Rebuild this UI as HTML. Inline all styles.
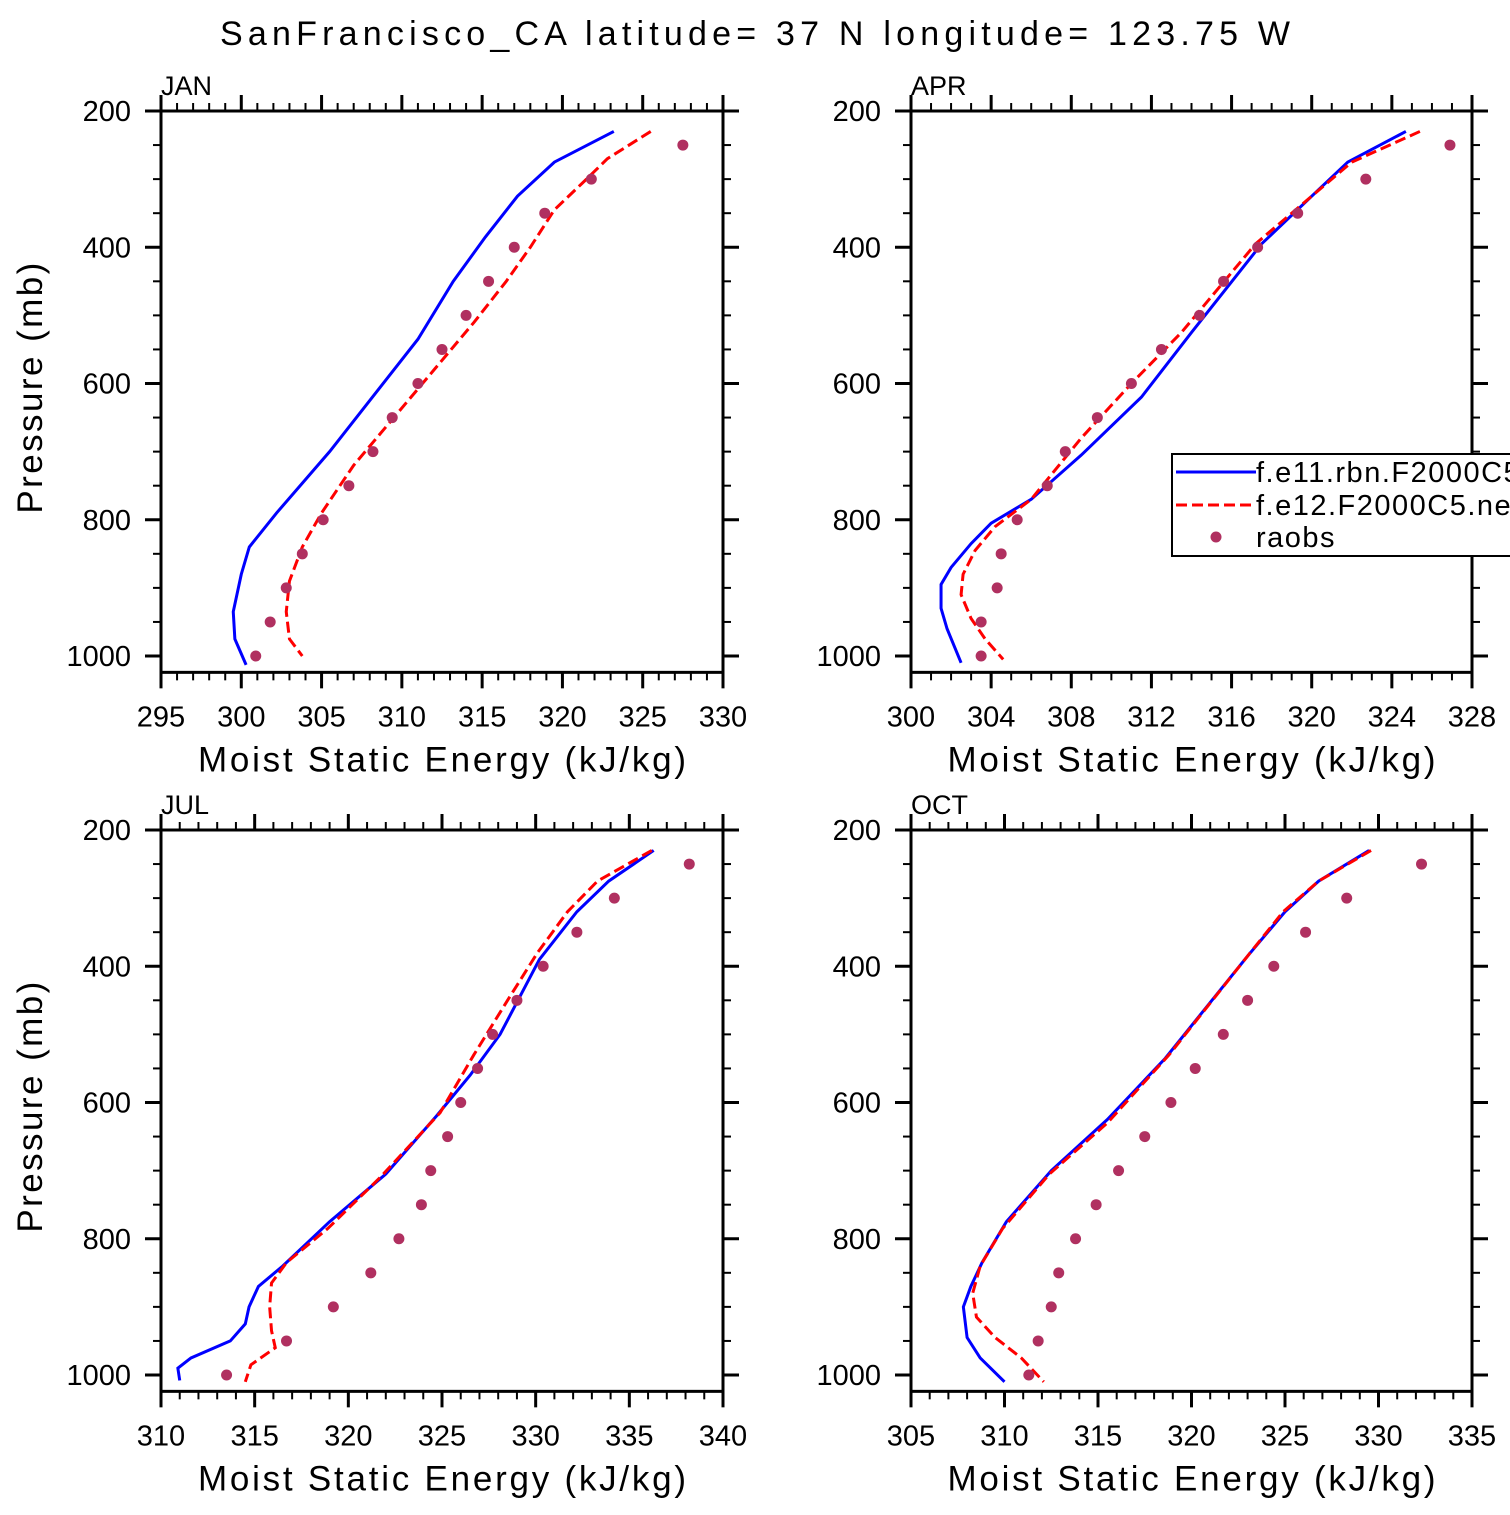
<!DOCTYPE html>
<html><head><meta charset="utf-8"><style>
body{margin:0;background:#fff}
svg text{font-family:"Liberation Sans",sans-serif;fill:#000}
</style></head><body>
<svg id="chart" xmlns="http://www.w3.org/2000/svg" width="1510" height="1510" viewBox="0 0 1510 1510">
<rect width="1510" height="1510" fill="#fff"/>
<text x="220" y="45" font-size="34" textLength="1070" lengthAdjust="spacing">SanFrancisco_CA  latitude= 37 N longitude= 123.75 W</text>
</svg>
<script>
// ---- data ----
const panelNames = ["JAN","APR","JUL","OCT"];
const xMins = [295,300,310,305];
const xMaxs = [330,328,340,335];
const xSteps = [5,4,5,5];
const pTicks = [200,400,600,800,1000];
const obsP = [250,300,350,400,450,500,550,600,650,700,750,800,850,900,950,1000];
const janObs = [327.5,321.8,318.9,317.0,315.4,314.0,312.5,311.0,309.4,308.2,306.7,305.1,303.8,302.8,301.8,300.9];
const aprObs = [326.9,322.7,319.3,317.3,315.6,314.4,312.5,311.0,309.3,307.7,306.8,305.3,304.5,304.3,303.5,303.5];
const julObs = [338.2,334.2,332.2,330.4,329.0,327.7,326.9,326.0,325.3,324.4,323.9,322.7,321.2,319.2,316.7,313.5];
const octObs = [332.3,328.3,326.1,324.4,323.0,321.7,320.2,318.9,317.5,316.1,314.9,313.8,312.9,312.5,311.8,311.3];
const janBlueP = [230,275,325,385,450,535,610,700,790,840,880,935,975,1013];
const janBlue = [323.2,319.5,317.2,315.2,313.2,311.0,308.5,305.5,302.2,300.5,300.0,299.5,299.6,300.3];
const janRedP = [230,270,300,345,400,450,510,580,650,720,790,840,890,935,975,1000];
const janRed = [325.5,322.8,321.5,319.5,318.0,316.5,314.5,312.0,309.5,307.0,305.0,303.8,303.0,302.8,303.0,303.8];
const aprBlueP = [230,275,325,395,525,620,705,770,805,835,870,895,930,960,1010];
const aprBlue = [324.7,321.8,320.0,317.5,314.0,311.5,308.5,306.0,304.0,303.0,302.0,301.5,301.5,301.8,302.5];
const aprRedP = [230,275,325,395,525,600,680,770,810,845,880,910,945,975,1005];
const aprRed = [325.4,322.0,320.0,317.2,313.5,311.0,308.5,306.0,304.2,303.2,302.6,302.5,303.0,303.7,304.6];
const julBlueP = [230,275,320,390,500,560,620,705,775,840,870,900,925,950,975,990,1008];
const julBlue = [336.3,333.9,332.2,330.2,328.1,326.5,324.7,322.0,319.0,316.5,315.2,314.7,314.5,313.7,311.6,310.9,311.0];
const julRedP = [230,275,320,380,450,530,615,710,785,835,865,900,935,960,985,1010];
const julRed = [336.2,333.3,331.7,330.1,328.5,326.7,324.9,321.7,318.9,316.7,315.9,315.8,315.9,316.1,314.8,314.5];
const octBlueP = [230,275,320,385,535,625,700,775,835,870,900,945,975,1010];
const octBlue = [329.5,326.8,325.0,323.0,318.6,315.5,312.5,310.1,308.8,308.2,307.8,308.0,308.7,310.0];
const octRedP = [230,275,320,385,530,630,705,785,840,880,915,945,975,1010];
const octRed = [329.6,326.8,324.9,323.0,318.8,315.5,312.4,309.9,308.7,308.3,308.5,309.5,310.9,312.1];
const legendLabels = ["f.e11.rbn.F2000C5.ne30","f.e12.F2000C5.ne30","raobs"];

const obsSets=[janObs,aprObs,julObs,octObs];
const blueSets=[[janBlueP,janBlue],[aprBlueP,aprBlue],[julBlueP,julBlue],[octBlueP,octBlue]];
const redSets=[[janRedP,janRed],[aprRedP,aprRed],[julRedP,julRed],[octRedP,octRed]];

const NS="http://www.w3.org/2000/svg";
const svg=document.getElementById('chart');
function mk(tag,attrs,parent){const e=document.createElementNS(NS,tag);for(const k in attrs)e.setAttribute(k,attrs[k]);(parent||svg).appendChild(e);return e;}

const L=[161,911],R=[723,1472],T=[111,830];
const pMin=200,pMax=1024;
for(let i=0;i<4;i++){
  const x0=L[i%2],x1=R[i%2],y0=T[Math.floor(i/2)],py=68.125;
  const y1=y0+(pMax-pMin)/100*py;
  const xs=v=>x0+(v-xMins[i])/(xMaxs[i]-xMins[i])*(x1-x0);
  const ys=p=>y0+(p-pMin)/100*py;
  const g=mk('g',{});
  
  
  const t=mk('text',{x:x0,y:y0-16,'font-size':27},g);t.textContent=panelNames[i];
  
  
  for(let v=xMins[i];v<=xMaxs[i]+1e-6;v+=1){
    const maj=((v-xMins[i])%xSteps[i])===0, len=maj?16:8, X=xs(v);
    mk('line',{x1:X,y1:y1,x2:X,y2:y1+len,stroke:'#000','stroke-width':maj?3:2},g);
    mk('line',{x1:X,y1:y0,x2:X,y2:y0-len,stroke:'#000','stroke-width':maj?3:2},g);
    if(maj){const tx=mk('text',{x:X,y:y1+54,'text-anchor':'middle','font-size':29},g);tx.textContent=v;
      
      }
  }
  for(let p=200;p<=1000;p+=50){
    const maj=p%200===0,len=maj?16:8,Y=ys(p);
    mk('line',{x1:x0,y1:Y,x2:x0-len,y2:Y,stroke:'#000','stroke-width':maj?3:2},g);
    mk('line',{x1:x1,y1:Y,x2:x1+len,y2:Y,stroke:'#000','stroke-width':maj?3:2},g);
  }
  pTicks.forEach(p=>{const ty=mk('text',{x:x0-30,y:ys(p)+10,'text-anchor':'end','font-size':29},g);ty.textContent=p;
    
    });
  const xl=mk('text',{x:(x0+x1)/2-244,y:y1+99,'font-size':35,textLength:488,lengthAdjust:'spacing'},g);xl.textContent='Moist Static Energy (kJ/kg)';
  
  
  if(i%2===0){const yl=mk('text',{x:-125,y:0,'font-size':35,textLength:251,lengthAdjust:'spacing',transform:`translate(42,${(y0+y1)/2-3}) rotate(-90)`},g);yl.textContent='Pressure (mb)';
    
    }
  const bp=blueSets[i][0].map((p,k)=>xs(blueSets[i][1][k])+','+ys(p)).join(' ');
  const bl=mk('polyline',{points:bp,fill:'none',stroke:'#0000ff','stroke-width':3},g);
  
  
  const rp=redSets[i][0].map((p,k)=>xs(redSets[i][1][k])+','+ys(p)).join(' ');
  const rl=mk('polyline',{points:rp,fill:'none',stroke:'#ff0000','stroke-width':3,'stroke-dasharray':'11,5'},g);
  
  
  obsP.forEach((p,k)=>{const c=mk('circle',{cx:xs(obsSets[i][k]),cy:ys(p),r:5.5,fill:'#b03060'},g);
    
    });
  mk('rect',{x:x0,y:y0,width:x1-x0,height:y1-y0,fill:'none',stroke:'#000','stroke-width':3},g);
}
const lg=mk('g',{});


mk('rect',{x:1172,y:454,width:360,height:102,fill:'#fff',stroke:'#000','stroke-width':2},lg);
mk('line',{x1:1176,y1:472,x2:1256,y2:472,stroke:'#0000ff','stroke-width':3},lg);
mk('line',{x1:1176,y1:505,x2:1256,y2:505,stroke:'#ff0000','stroke-width':3,'stroke-dasharray':'11,5'},lg);
mk('circle',{cx:1216,cy:537,r:5.5,fill:'#b03060'},lg);
[482,515,547].forEach((y,k)=>{const t=mk('text',{x:1256,y:y,'font-size':29,'letter-spacing':'1.5'},lg);t.textContent=legendLabels[k];
  
  });
</script>
</body></html>
